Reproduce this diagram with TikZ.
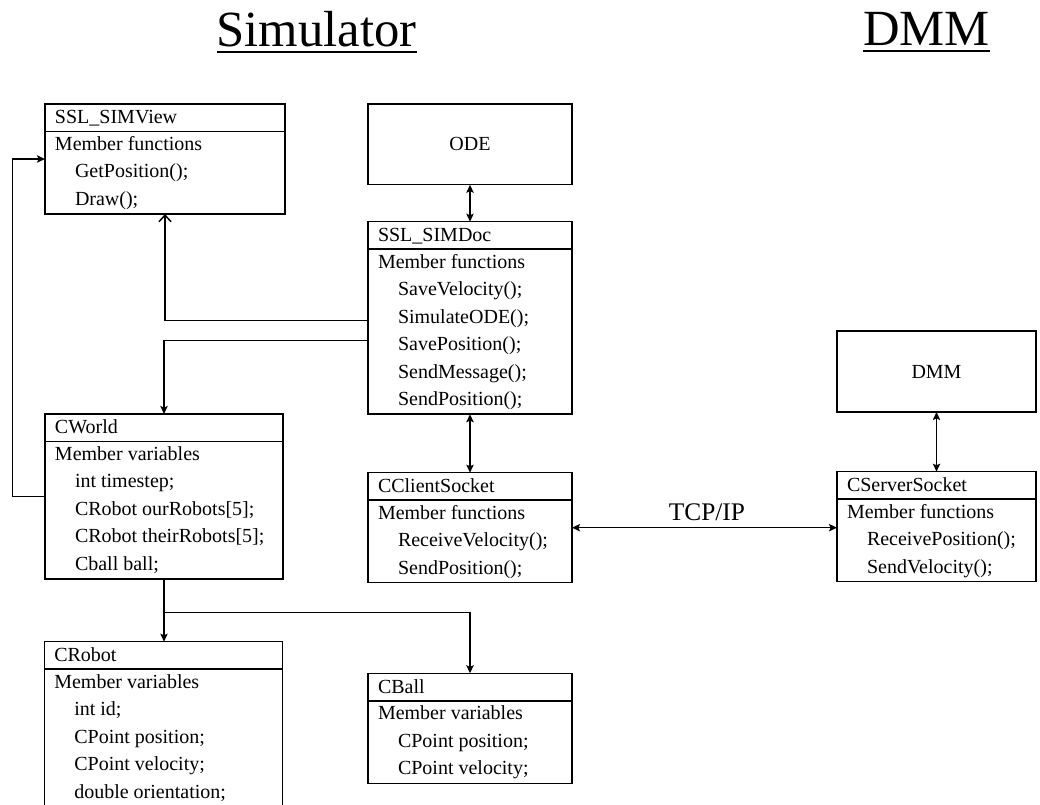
\documentclass[tikz,border=0pt]{standalone}
\usepackage{fontspec}
\setmainfont{Liberation Serif}
\usetikzlibrary{arrows.meta,calc}

\tikzset{
  frame/.style={draw=black, line width=1.1pt},
  classframe/.style={frame, rectangle, inner sep=0pt, outer sep=0pt},
  rowtext/.style={anchor=base west, inner sep=0pt, outer sep=0pt,
    font=\fontsize{15}{18}\selectfont},
  titletext/.style={anchor=base west, inner sep=0pt, outer sep=0pt,
    font=\fontsize{38}{44}\selectfont},
  link/.style={draw=black, line width=1.1pt},
  tip/.tip={Stealth[length=6pt,width=5.5pt,inset=1.2pt]},
  opentip/.tip={Straight Barb[length=5pt,width=9pt,line width=1.1pt]},
}

% class box: name, left, top, right, number of rows, header, rows (text/indent level)
\newcommand{\umlclass}[7]{%
  \pgfmathsetmacro\boxw{(#4-#2)*0.75}%
  \pgfmathsetmacro\boxh{27.5*(#5+1)*0.75}%
  \node[classframe, minimum width=\boxw pt, minimum height=\boxh pt,
        anchor=north west] (#1) at (#2,#3) {};
  \draw[frame] ([yshift=-20.625pt]#1.north west) -- ([yshift=-20.625pt]#1.north east);
  \node[rowtext] (#1-head) at (#2+10,#3+20) {#6};
  \foreach \txt/\ind [count=\i] in {#7} {
    \node[rowtext] (#1-row\i) at (#2+10+20*\ind,#3+46.5+27.5*\i-27.5) {\txt};
  }%
}

\begin{document}
\begin{tikzpicture}[x=0.75pt,y=-0.75pt]
\useasboundingbox (0,0) rectangle (1040,805);
\clip (0,0) rectangle (1040,805);

% section titles
\node[titletext] (simtitle) at (216.7,46.7) {Simulator};
\draw[line width=1.8pt] ([yshift=-4.2pt]simtitle.base west) -- ([yshift=-4.2pt]simtitle.base east);
\node[titletext] (dmmtitle) at (863.3,45.5) {DMM};
\draw[line width=1.8pt] ([yshift=-4.2pt]dmmtitle.base west) -- ([yshift=-4.2pt]dmmtitle.base east);

% plain module boxes
\node[classframe, minimum width=153pt, minimum height=60.5pt,
      font=\fontsize{15}{18}\selectfont] (ode) at (470,144.4) {ODE};
\node[classframe, minimum width=149.25pt, minimum height=60.75pt,
      font=\fontsize{15}{18}\selectfont] (dmm) at (936.5,371.5) {DMM};

% classes
\umlclass{view}{45}{104}{285}{3}{SSL\_SIMView}
  {{Member functions}/0, {GetPosition();}/1, {Draw();}/1}
\umlclass{simdoc}{368}{221.7}{572}{6}{SSL\_SIMDoc}
  {{Member functions}/0, {SaveVelocity();}/1, {SimulateODE();}/1,
   {SavePosition();}/1, {SendMessage();}/1, {SendPosition();}/1}
\umlclass{world}{45}{414}{283}{5}{CWorld}
  {{Member variables}/0, {int timestep;}/1, {CRobot ourRobots[5];}/1,
   {CRobot theirRobots[5];}/1, {Cball ball;}/1}
\umlclass{client}{368}{472.7}{572}{3}{CClientSocket}
  {{Member functions}/0, {ReceiveVelocity();}/1, {SendPosition();}/1}
\umlclass{server}{837}{471.7}{1036}{3}{CServerSocket}
  {{Member functions}/0, {ReceivePosition();}/1, {SendVelocity();}/1}
\umlclass{robot}{44.3}{641.7}{282.7}{5}{CRobot}
  {{Member variables}/0, {int id;}/1, {CPoint position;}/1,
   {CPoint velocity;}/1, {double orientation;}/1}
\umlclass{ball}{368}{673.3}{572}{3}{CBall}
  {{Member variables}/0, {CPoint position;}/1, {CPoint velocity;}/1}

% connectors
\draw[link, -opentip] ([yshift=-2.1pt]simdoc.west) -| (view.south);
\draw[link, -tip] ([yshift=-17.1pt]simdoc.west) -| (world.north);
\draw[link, -tip] (world.west) -- ++(-32.7,0) |- (view.west);
\draw[link, tip-tip] (ode.south) -- (simdoc.north);
\draw[link, tip-tip] (simdoc.south) -- (client.north);
\draw[link, tip-tip] (dmm.south) -- (server.north);
\draw[link, tip-tip] (client.east) -- (client.east -| server.west);
\node[inner sep=0pt, anchor=base, font=\fontsize{19}{22}\selectfont] (tcp)
  at ($(client.east)!0.5!(client.east -| server.west) + (2.5,-6.7)$) {TCP/IP};
\draw[link, -tip] (world.south) -- ++(0,33.3) coordinate (fork) -- (fork |- robot.north);
\draw[link, -tip] (fork) -| (ball.north);
\end{tikzpicture}
\end{document}
